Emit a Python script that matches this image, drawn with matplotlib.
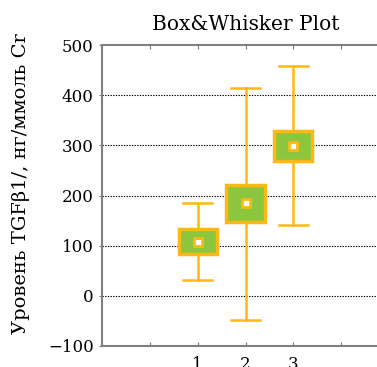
import matplotlib
matplotlib.use("Agg")
import matplotlib.pyplot as plt

positions = [1, 2, 3]
whisker_low = [31, -48, 141]
q1 = [84, 148, 269]
center = [108, 185, 299]
q3 = [133, 220, 329]
whisker_high = [185, 414, 458]
xtick_pos = [0, 1, 2, 3, 4]
xtick_labels = ["", "1", "2", "3", ""]
yticks = [-100, 0, 100, 200, 300, 400, 500]

GREEN = "#8cc63e"
ORANGE = "#fdb913"
SPINE = "#7f7f7f"

plt.rcParams['font.family'] = ['DejaVu Serif']

fig = plt.figure(figsize=(3.77, 3.67), dpi=100)
W, H = 377, 367
left, right, top, bottom = 102, 389, 45, 346
ax = fig.add_axes([left / W, 1 - bottom / H, (right - left) / W, (bottom - top) / H])

stats = []
for i in range(len(positions)):
    stats.append(dict(med=center[i], q1=q1[i], q3=q3[i], whislo=whisker_low[i],
                      whishi=whisker_high[i], mean=center[i], fliers=[]))

ax.bxp(stats, positions=positions, widths=0.8, capwidths=0.6, patch_artist=True,
       showmeans=True, showfliers=False, zorder=3,
       boxprops=dict(facecolor=GREEN, edgecolor=ORANGE, linewidth=2.5),
       whiskerprops=dict(color=ORANGE, linewidth=1.8),
       capprops=dict(color=ORANGE, linewidth=1.8),
       medianprops=dict(linewidth=0),
       meanprops=dict(marker='s', markersize=5.5, markerfacecolor='white',
                      markeredgecolor=ORANGE, markeredgewidth=2))

ax.set_xlim(-1, 5)
ax.set_ylim(-100, 500)
ax.set_xticks(xtick_pos)
ax.set_xticklabels(xtick_labels, fontsize=12)
ax.set_yticks(yticks)
ax.set_yticklabels([("\u2212" + str(abs(v))) if v < 0 else str(v) for v in yticks], fontsize=12)
ax.tick_params(axis='x', direction='in', length=3, color=SPINE, top=True, pad=7)
ax.tick_params(axis='y', direction='out', length=2, color=SPINE, pad=4)

for v in yticks[1:-1]:
    ax.axhline(v, color='black', linestyle=(0, (1.2, 1.2)), linewidth=0.8, zorder=1)

for s in ax.spines.values():
    s.set_color(SPINE)
    s.set_linewidth(1.5)
ax.spines['right'].set_visible(False)

ax.set_title("Box&Whisker Plot", fontsize=14.5, pad=11)
ax.set_ylabel("Уровень TGFβ1/, нг/ммоль Cr", fontsize=14)
ax.yaxis.set_label_coords((30 - left) / (right - left), 0.54)

fig.savefig("out.png", dpi=100)
